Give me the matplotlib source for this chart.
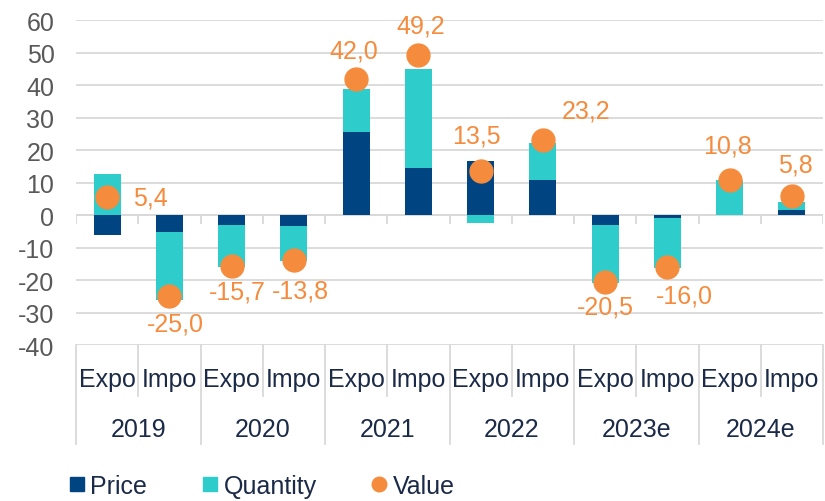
import numpy as np
import matplotlib
matplotlib.use("Agg")
import matplotlib.pyplot as plt
import matplotlib.transforms as mtransforms
from matplotlib.lines import Line2D

# contributions to trade growth (%)
years = ["2019", "2020", "2021", "2022", "2023e", "2024e"]
flows = ["Expo", "Impo"]
price = [-6.0, -5.3, -3.0, -3.4, 25.4, 14.5, 16.5, 10.9, -3.0, -0.9, 0.0, 1.5]
quantity = [12.5, -20.8, -13.1, -10.8, 13.4, 30.3, -2.5, 11.3, -18.0, -15.3, 10.8, 2.4]
value = [5.4, -25.0, -15.7, -13.8, 42.0, 49.2, 13.5, 23.2, -20.5, -16.0, 10.8, 5.8]
value_labels = ["5,4", "-25,0", "-15,7", "-13,8", "42,0", "49,2",
                "13,5", "23,2", "-20,5", "-16,0", "10,8", "5,8"]
# label placement relative to the marker, in pixels
label_offsets = [(43, 0), (6, -27), (6, -25), (7, -31), (-2, 28), (2, 30),
                 (-4, 36), (43, 29), (0, -25), (17, -28), (-2, 34), (4, 32)]

C_PRICE = "#004481"
C_QTY = "#2ECDCC"
C_VAL = "#F58B3C"
C_TXT = "#1B2A47"
C_GRID = "#D9D9D9"
FS = 18

plt.rcParams["font.family"] = ["Liberation Sans", "DejaVu Sans"]
plt.rcParams["axes.unicode_minus"] = False

fig = plt.figure(figsize=(8.25, 5.02), dpi=100)
ax = fig.add_axes([76 / 825, 1 - 346 / 502, (823 - 76) / 825, 325 / 502])

x = np.arange(len(value))
pos_base = np.zeros(len(x))
neg_base = np.zeros(len(x))
for vals, col in [(price, C_PRICE), (quantity, C_QTY)]:
    vals = np.array(vals)
    bottoms = np.where(vals >= 0, pos_base, neg_base)
    ax.bar(x, vals, width=0.43, bottom=bottoms, color=col, zorder=3)
    pos_base = pos_base + np.clip(vals, 0, None)
    neg_base = neg_base + np.clip(vals, None, 0)

ax.plot(x, value, "o", color=C_VAL, markersize=16.5, zorder=4)
for xi, v, lab, off in zip(x, value, value_labels, label_offsets):
    ax.annotate(lab, (xi, v), xytext=off, textcoords="offset pixels",
                ha="center", va="center", color=C_VAL, fontsize=FS, zorder=5)

ax.set_xlim(-0.5, len(x) - 0.5)
ax.set_ylim(-40, 60)
ax.set_yticks(np.arange(-40, 61, 10))
ax.grid(axis="y", color=C_GRID, linewidth=1.3, zorder=0)
for s in ax.spines.values():
    s.set_visible(False)
ax.tick_params(axis="y", length=0, pad=15.5, labelsize=FS, labelcolor="#595959")
ax.set_xticks([])

# axis line at zero with category tick marks
bounds = np.arange(-0.5, len(x), 1.0)
ax.axhline(0, color=C_GRID, linewidth=1.3, zorder=2)
ax.vlines(bounds, -2.8, 0, color=C_GRID, linewidth=1.3, zorder=2)

# two-level category axis below the plot
trans = mtransforms.blended_transform_factory(ax.transData, ax.transAxes)
for i, b in enumerate(bounds):
    depth = -0.305 if i % 2 == 0 else -0.157
    ax.plot([b, b], [0, depth], color=C_GRID, linewidth=1.3, transform=trans, clip_on=False)
for i in x:
    ax.text(i, -0.105, flows[i % 2], transform=trans, ha="center", va="center",
            fontsize=FS, color=C_TXT)
for j, yr in enumerate(years):
    ax.text(2 * j + 0.5, -0.258, yr, transform=trans, ha="center", va="center",
            fontsize=FS, color=C_TXT)

handles = [
    Line2D([], [], marker="s", linestyle="none", color=C_PRICE, markersize=9.4),
    Line2D([], [], marker="s", linestyle="none", color=C_QTY, markersize=9.4),
    Line2D([], [], marker="o", linestyle="none", color=C_VAL, markersize=10.5),
]
leg = fig.legend(handles, ["Price", "Quantity", "Value"], loc="center left",
                 bbox_to_anchor=(0.0776, 0.03), ncol=3, frameon=False, fontsize=FS,
                 handletextpad=0.05, columnspacing=2.0, handlelength=1.0,
                 borderpad=0, borderaxespad=0)
for t in leg.get_texts():
    t.set_color(C_TXT)

fig.savefig("out.png", dpi=100)
